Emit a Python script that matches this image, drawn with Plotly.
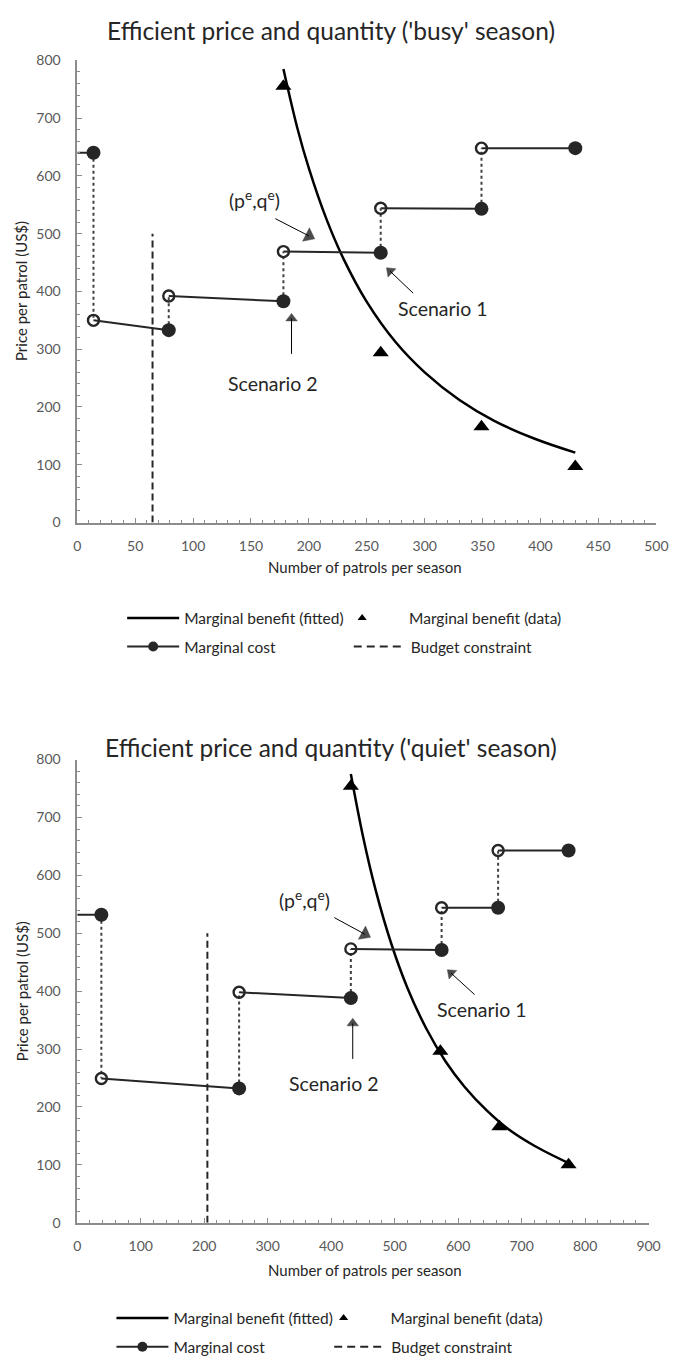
import plotly.graph_objects as go

W, H = 684, 1369

# ---------------- data: busy season (top) ----------------
busy_fit_q = [178, 190, 200, 215, 230, 250, 275, 300, 330, 360, 395, 430]
busy_fit_p = [785, 683, 613, 526, 456, 382, 312, 260, 212, 176, 145, 121]
busy_mb_q = [178, 262, 349, 430]
busy_mb_p = [755, 294, 166, 97]
busy_mc_closed_q = [14, 79, 178, 262, 349, 430]
busy_mc_closed_p = [640, 333, 383, 467, 543, 648]
busy_mc_open_q = [14, 79, 178, 262, 349]
busy_mc_open_p = [350, 392, 469, 544, 648]
busy_budget_q = 65
busy_budget_top = 500

# ---------------- data: quiet season (bottom) ----------------
quiet_fit_q = [431, 450, 470, 495, 520, 550, 580, 610, 645, 680, 720, 774]
quiet_fit_p = [775, 668, 575, 481, 406, 335, 279, 235, 194, 161, 133, 103]
quiet_mb_q = [431, 572, 665, 774]
quiet_mb_p = [754, 296, 166, 100]
quiet_mc_closed_q = [38, 255, 431, 574, 663, 774]
quiet_mc_closed_p = [532, 232, 388, 471, 544, 643]
quiet_mc_open_q = [38, 255, 431, 574, 663]
quiet_mc_open_p = [249, 398, 473, 544, 643]
quiet_budget_q = 205
quiet_budget_top = 500

# annotation labels: (text, text_q, text_p, arrow_tail_q, arrow_tail_p, arrow_tip_q, arrow_tip_p, head size)
PE = "(p<sup>e</sup>,q<sup>e</sup>)"
busy_labels = [
    (PE, 153, 559, 171, 526, 205, 491, 13),
    ("Scenario 1", 316, 371, 290, 397, 267, 441, 10),
    ("Scenario 2", 169, 241, 185, 292, 185, 362, 10),
]
quiet_labels = [
    (PE, 358, 558, 405, 527, 462, 493, 13),
    ("Scenario 1", 638, 369, 626, 394, 583, 437, 10),
    ("Scenario 2", 405, 241, 434, 283, 434, 353, 10),
]

FONT = "Lato"
DARK = "#262626"
GREY = "#595959"
AXC = "#8c8c8c"
NB = "\u00a0\u00a0\u00a0\u00a0"

fig = go.Figure()
ann = []


def add_panel(xr, yr, fit_q, fit_p, mb_q, mb_p, cq, cp, oq, op, bq, btop, labels, legs):
    fig.add_trace(go.Scatter(x=fit_q, y=fit_p, mode="lines", line=dict(color="black", width=2.5, shape="spline"),
                             xaxis=xr, yaxis=yr, showlegend=False, hoverinfo="skip"))
    sx, sy = [0, cq[0], None], [cp[0], cp[0], None]
    for i in range(len(oq)):
        sx += [oq[i], cq[i + 1], None]
        sy += [op[i], cp[i + 1], None]
    fig.add_trace(go.Scatter(x=sx, y=sy, mode="lines", line=dict(color=DARK, width=2),
                             xaxis=xr, yaxis=yr, showlegend=False, hoverinfo="skip"))
    vx, vy = [], []
    for i in range(len(oq)):
        vx += [cq[i], oq[i], None]
        vy += [cp[i], op[i], None]
    fig.add_trace(go.Scatter(x=vx, y=vy, mode="lines", line=dict(color="#404040", width=2, dash="dot"),
                             xaxis=xr, yaxis=yr, showlegend=False, hoverinfo="skip"))
    fig.add_trace(go.Scatter(x=[bq, bq], y=[0, btop], mode="lines",
                             line=dict(color=DARK, width=2, dash="7px,4px"),
                             xaxis=xr, yaxis=yr, showlegend=False, hoverinfo="skip"))
    fig.add_trace(go.Scatter(x=oq, y=op, mode="markers",
                             marker=dict(symbol="circle-open", size=11, color=DARK, line=dict(width=2.4, color=DARK)),
                             xaxis=xr, yaxis=yr, showlegend=False, hoverinfo="skip"))
    fig.add_trace(go.Scatter(x=cq, y=cp, mode="markers",
                             marker=dict(symbol="circle", size=14, color=DARK),
                             xaxis=xr, yaxis=yr, showlegend=False, hoverinfo="skip"))
    fig.add_trace(go.Scatter(x=mb_q, y=mb_p, mode="markers",
                             marker=dict(symbol="triangle-up", size=14, color="black"),
                             xaxis=xr, yaxis=yr, showlegend=False, hoverinfo="skip"))
    # arrows + labels
    for txt, tq, tp, aq, ap, hq, hp, hs in labels:
        fig.add_trace(go.Scatter(x=[aq, hq], y=[ap, hp], mode="lines+markers",
                                 line=dict(color="black", width=1),
                                 marker=dict(symbol="triangle-up", size=[0, hs], color="black", angleref="previous",
                                             standoff=[0, hs / 2], line=dict(width=0.5, color="black")),
                                 xaxis=xr, yaxis=yr, showlegend=False, hoverinfo="skip", cliponaxis=False))
        ann.append(dict(text=txt, x=tq, y=tp, xref=xr, yref=yr, showarrow=False,
                        font=dict(family=FONT, size=19.5, color=DARK)))
    # legend entries (one legend per entry for exact placement)
    fig.add_trace(go.Scatter(x=[None], y=[None], mode="lines", name="Marginal benefit (fitted)",
                             line=dict(color="black", width=2.5), legend=legs[0], xaxis=xr, yaxis=yr))
    fig.add_trace(go.Scatter(x=[None], y=[None], mode="markers", name=NB + "Marginal benefit (data)",
                             marker=dict(symbol="triangle-up", size=8, color="black"), legend=legs[1], xaxis=xr, yaxis=yr))
    fig.add_trace(go.Scatter(x=[None], y=[None], mode="lines+markers", name="Marginal cost",
                             line=dict(color=DARK, width=2), marker=dict(symbol="circle", size=10, color=DARK),
                             legend=legs[2], xaxis=xr, yaxis=yr))
    fig.add_trace(go.Scatter(x=[None], y=[None], mode="lines", name="Budget constraint",
                             line=dict(color=DARK, width=2, dash="8px,5px"), legend=legs[3], xaxis=xr, yaxis=yr))


add_panel("x", "y", busy_fit_q, busy_fit_p, busy_mb_q, busy_mb_p, busy_mc_closed_q, busy_mc_closed_p,
          busy_mc_open_q, busy_mc_open_p, busy_budget_q, busy_budget_top, busy_labels,
          ["legend", "legend2", "legend3", "legend4"])
add_panel("x2", "y2", quiet_fit_q, quiet_fit_p, quiet_mb_q, quiet_mb_p, quiet_mc_closed_q, quiet_mc_closed_p,
          quiet_mc_open_q, quiet_mc_open_p, quiet_budget_q, quiet_budget_top, quiet_labels,
          ["legend5", "legend6", "legend7", "legend8"])


def px_x(v):
    return v / W


def px_y(v):
    return 1 - v / H


axis_common = dict(showline=True, linecolor=AXC, linewidth=1.5, showgrid=False, zeroline=False,
                   ticks="inside", ticklen=5, tickcolor=AXC, tickwidth=1,
                   tickfont=dict(family=FONT, size=14, color=GREY), fixedrange=True)

fig.update_layout(
    xaxis=dict(domain=[px_x(75), px_x(668)], range=[0, 500], tick0=0, dtick=50, anchor="y",
               minor=dict(dtick=10, ticks="inside", ticklen=3, tickcolor=AXC), ticklabelstandoff=10, **axis_common),
    yaxis=dict(domain=[px_y(520), px_y(52)], range=[0, 800], tick0=0, dtick=100, anchor="x",
               minor=dict(dtick=20, ticks="inside", ticklen=3, tickcolor=AXC), ticklabelstandoff=12, **axis_common),
    xaxis2=dict(domain=[px_x(75), px_x(660)], range=[0, 900], tick0=0, dtick=100, anchor="y2",
                minor=dict(dtick=20, ticks="inside", ticklen=3, tickcolor=AXC), ticklabelstandoff=10, **axis_common),
    yaxis2=dict(domain=[px_y(1229), px_y(760)], range=[0, 800], tick0=0, dtick=100, anchor="x2",
                minor=dict(dtick=20, ticks="inside", ticklen=3, tickcolor=AXC), ticklabelstandoff=12, **axis_common),
)

leg_common = dict(orientation="h", yanchor="middle", xanchor="left", bgcolor="rgba(0,0,0,0)",
                  font=dict(family=FONT, size=15.5, color=DARK), itemwidth=52,
                  itemclick=False, itemdoubleclick=False)
fig.update_layout(
    legend=dict(x=px_x(121), y=px_y(617), **leg_common),
    legend2=dict(x=px_x(335), y=px_y(617), **leg_common),
    legend3=dict(x=px_x(121), y=px_y(646), **leg_common),
    legend4=dict(x=px_x(353), y=px_y(646), **leg_common),
    legend5=dict(x=px_x(110), y=px_y(1326), **leg_common),
    legend6=dict(x=px_x(316), y=px_y(1326), **leg_common),
    legend7=dict(x=px_x(110), y=px_y(1355), **leg_common),
    legend8=dict(x=px_x(333), y=px_y(1355), **leg_common),
)

for txt, yy in [("Efficient price and quantity ('busy' season)", 22),
                ("Efficient price and quantity ('quiet' season)", 748)]:
    ann.append(dict(text=txt, x=px_x(335), y=px_y(yy), xref="paper", yref="paper", showarrow=False,
                    xanchor="center", yanchor="middle", font=dict(family=FONT, size=24.5, color=DARK)))
for yy in [565, 1277]:
    ann.append(dict(text="Number of patrols per season", x=px_x(370), y=px_y(yy), xref="paper", yref="paper",
                    showarrow=False, xanchor="center", yanchor="middle", font=dict(family=FONT, size=15, color=DARK)))
for yy in [286, 995]:
    ann.append(dict(text="Price per patrol (US$)", x=px_x(18), y=px_y(yy), xref="paper", yref="paper",
                    showarrow=False, textangle=-90, xanchor="center", yanchor="middle",
                    font=dict(family=FONT, size=15, color=DARK)))

fig.update_layout(
    annotations=ann,
    width=W, height=H,
    margin=dict(l=0, r=0, t=0, b=0),
    paper_bgcolor="white", plot_bgcolor="white",
    font=dict(family=FONT),
    hovermode=False,
)

fig.write_html("out.html", config={"displayModeBar": False},
               post_script="document.documentElement.style.overflow='hidden';"
                           "document.body.style.overflow='hidden';"
                           "document.body.style.margin='0px';document.body.style.padding='0px';")
